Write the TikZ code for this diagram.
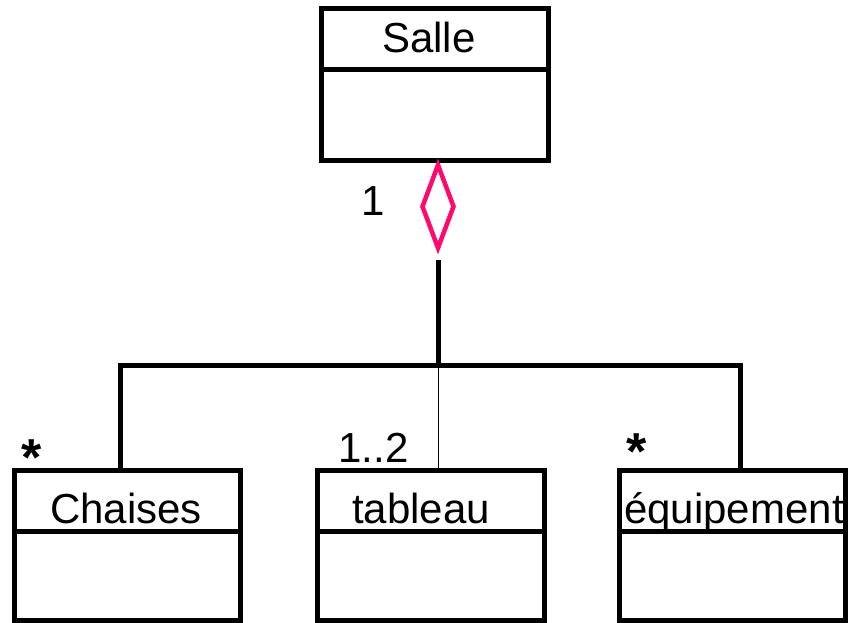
\documentclass[tikz,border=0pt]{standalone}
\usepackage{fontspec}
\setmainfont{Liberation Sans}
\usetikzlibrary{shapes.geometric}
\definecolor{aggpink}{HTML}{FF0A6C}
\begin{document}
\begin{tikzpicture}[x=1pt,y=-1pt,
  classbox/.style={draw,line width=5pt,rectangle,inner sep=0pt,outer sep=0pt,minimum width=#1},
  rule/.style={line width=5pt},
  title/.style={anchor=base,inner sep=0pt,font=\fontsize{42}{50}\selectfont},
  mult/.style={anchor=base,inner sep=0pt,font=\fontsize{42}{50}\selectfont},
  star/.style={anchor=base,inner sep=0pt,font=\fontsize{52}{60}\selectfont\bfseries},
  aggdiamond/.style={diamond,draw=aggpink,line width=4.5pt,inner sep=0pt,outer sep=0pt,minimum width=31pt,minimum height=83pt},
  conn/.style={line width=5pt},
  thinconn/.style={line width=1pt}
]
\useasboundingbox (0,0) rectangle (848,623);

% classes
\node[classbox=227pt,minimum height=152pt] (salle) at (435,84.5) {};
\node[classbox=226pt,minimum height=149.5pt] (chaises) at (127.5,545.25) {};
\node[classbox=226.5pt,minimum height=149.5pt] (tableau) at (430.75,545.25) {};
\node[classbox=226pt,minimum height=149.5pt] (equip) at (732.5,545.25) {};

% compartment dividers
\foreach \c in {salle,chaises,tableau,equip}
  \draw[rule] ([yshift=-61pt]\c.north west) -- ([yshift=-61pt]\c.north east);

% titles
\node[title] (salleT) at (429,53) {Salle};
\node[title] (chaisesT) at (126,523) {Chaises};
\node[title] (tableauT) at (421,523) {tableau};
\node[title] (equipT) at (734,523) {équipement};

% aggregation diamond
\node[aggdiamond] (agg) at (438,206.5) {};

% connectors
\coordinate (stem) at (438,260);
\coordinate (hub) at (438,365.5);
\coordinate (lcorner) at (120.5,365.5);
\coordinate (rcorner) at (740,365.5);
\draw[conn] (stem) -- (hub);
\draw[conn] (chaises.north -| lcorner) -- (lcorner) -- (rcorner) -- (equip.north -| rcorner);
\draw[thinconn] (hub) -- (tableau.north -| hub);

% multiplicities
\node[mult] (m1) at (373,215) {1};
\node[star] (mc) at (32,475) {*};
\node[mult] (mt) at (373.5,462) {1..2};
\node[star] (me) at (637,469) {*};
\end{tikzpicture}
\end{document}
